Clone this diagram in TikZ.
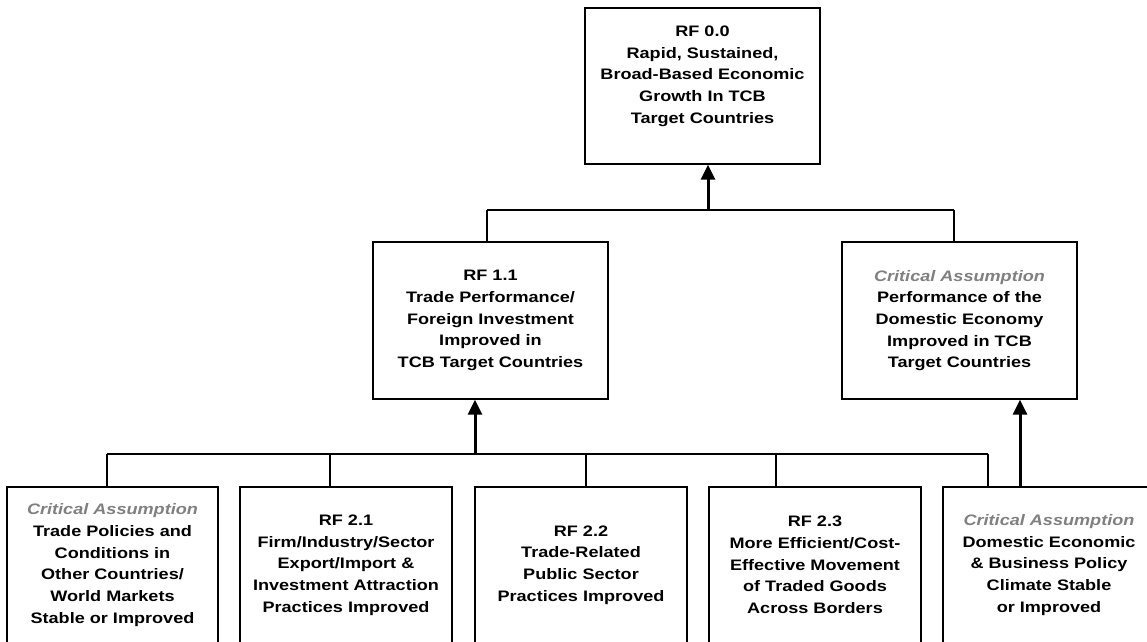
\documentclass[tikz,border=0pt]{standalone}
\usepackage{fontspec}
\setmainfont{Liberation Sans}[FakeStretch=1.19]
\usetikzlibrary{arrows.meta,calc}
\newcommand\boxfont{\fontsize{15.2pt}{21.7pt}\selectfont\bfseries}
\newcommand\ca[1]{\textcolor{cagray}{\itshape #1}}
\definecolor{cagray}{RGB}{128,128,128}
\tikzset{
  frame/.style={draw=black, line width=1.3pt, inner sep=0pt, fill=white},
  lbl/.style={align=center, font=\boxfont, inner sep=0pt, text=black},
  wire/.style={draw=black, line width=1.3pt},
  up/.style={draw=black, line width=3pt, -{Triangle[length=15pt,width=14pt]}},
}
\begin{document}
\begin{tikzpicture}[x=1pt,y=-1pt]
\useasboundingbox (0,0) rectangle (1147,641);
\clip (0,0) rectangle (1147,641);
\fill[white] (0,0) rectangle (1147,641);

% top box
\node[frame, minimum width=235pt, minimum height=156pt] (top) at (702.5,86) {};
\node[lbl] (toptext) at (702.5,76) {RF 0.0\\Rapid, Sustained,\\Broad-Based Economic\\Growth In TCB\\Target Countries};

% middle row
\node[frame, lbl, minimum width=235pt, minimum height=157pt] (rf11) at (490.5,320.5)
  {RF 1.1\\Trade Performance/\\Foreign Investment\\Improved in\\TCB Target Countries};
\node[frame, lbl, minimum width=235pt, minimum height=157pt] (cam) at (959.5,320.5)
  {\ca{Critical Assumption}\\Performance of the\\Domestic Economy\\Improved in TCB\\Target Countries};

% bottom row
\node[frame, lbl, minimum width=211pt, minimum height=156pt] (ca1) at (112.5,565)
  {\ca{Critical Assumption}\\Trade Policies and\\Conditions in\\Other Countries/\\World Markets\\Stable or Improved};
\node[frame, lbl, minimum width=212pt, minimum height=156pt] (rf21) at (346,565)
  {RF 2.1\\Firm/Industry/Sector\\Export/Import \&\\Investment Attraction\\Practices Improved};
\node[frame, lbl, minimum width=212pt, minimum height=156pt] (rf22) at (581,565)
  {RF 2.2\\Trade-Related\\Public Sector\\Practices Improved};
\node[frame, lbl, minimum width=212pt, minimum height=156pt] (rf23) at (815,565)
  {RF 2.3\\More Efficient/Cost-\\Effective Movement\\of Traded Goods\\Across Borders};
\node[frame, lbl, minimum width=212pt, minimum height=156pt] (ca2) at (1049,565)
  {\ca{Critical Assumption}\\Domestic Economic\\\& Business Policy\\Climate Stable\\or Improved};

% upper bus
\coordinate (busA) at (708,210);
\draw[wire] (487,210) -- (954,210);
\draw[wire] (487,210) -- (rf11.north -| 487,0);
\draw[wire] (954,210) -- (cam.north -| 954,0);
\draw[up] (busA) -- (top.south -| busA);

% lower bus
\coordinate (busB) at (475,454);
\draw[wire] (107,454) -- (988,454);
\draw[wire] (107,454) -- (ca1.north -| 107,0);
\draw[wire] (330,454) -- (rf21.north -| 330,0);
\draw[wire] (586,454) -- (rf22.north -| 586,0);
\draw[wire] (776,454) -- (rf23.north -| 776,0);
\draw[wire] (988,454) -- (ca2.north -| 988,0);
\draw[up] (busB) -- (rf11.south -| busB);
\coordinate (caup) at (1020,0);
\draw[up] (ca2.north -| caup) -- (cam.south -| caup);
\end{tikzpicture}
\end{document}
